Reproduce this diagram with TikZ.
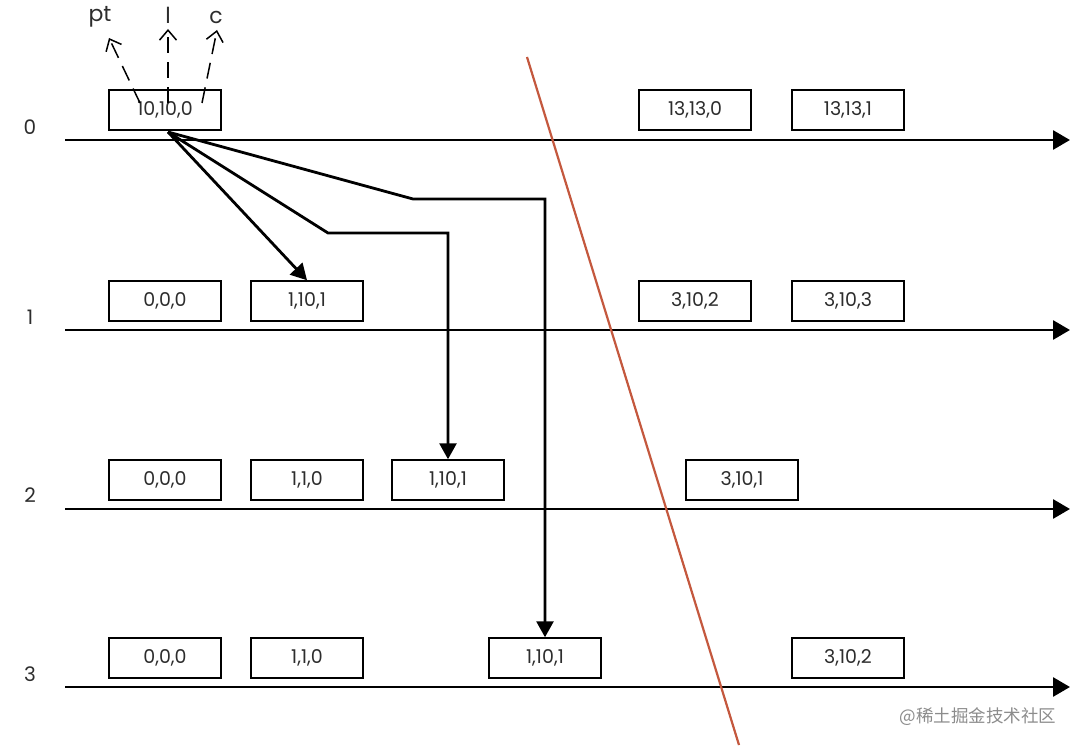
\documentclass[tikz,border=0pt]{standalone}
\usepackage{fontspec}
\setmainfont{Poppins}
\newfontfamily\cjkfont{Noto Sans CJK SC}
\usetikzlibrary{arrows.meta}
\definecolor{cutred}{RGB}{196,88,62}
\definecolor{txt}{RGB}{45,45,45}
\tikzset{
  vbox/.style={draw, line width=1.5pt, minimum width=112pt, minimum height=40pt, inner sep=0pt, text=txt, font=\fontsize{19}{21}\selectfont},
  tline/.style={line width=2.8pt, -{Triangle[length=17pt,width=19pt]}},
  msg/.style={line width=2.8pt, -{Triangle[length=16pt,width=17pt]}},
  dsh/.style={line width=1.5pt, dash pattern=on 16pt off 9pt, -{Straight Barb[length=10pt,width=17pt,line width=1.5pt]}},
  plabel/.style={font=\fontsize{20}{22}\selectfont, inner sep=0pt, text=txt},
  rlabel/.style={font=\fontsize{22}{24}\selectfont, inner sep=0pt, text=txt}
}
\begin{document}
\begin{tikzpicture}[x=1pt,y=-1pt]
\useasboundingbox (0,0) rectangle (1080,749);
\fill[white] (0,0) rectangle (1080,749);
% process labels
\node[plabel] (p0) at (30,127) {0};
\node[plabel] (p1) at (30,317) {1};
\node[plabel] (p2) at (30,495) {2};
\node[plabel] (p3) at (30,674) {3};
% timelines
\foreach \i/\y in {0/140,1/330,2/509,3/687}{
  \coordinate (s\i) at (65,\y);
  \coordinate (e\i) at (1070,\y);
  \draw[tline] (s\i) -- (e\i);
}
% boxes row 0
\node[vbox] (a00) at (165,110) {10,10,0};
\node[vbox] (a01) at (695,110) {13,13,0};
\node[vbox] (a02) at (848,110) {13,13,1};
% row 1
\node[vbox] (a10) at (165,301) {0,0,0};
\node[vbox] (a11) at (307,301) {1,10,1};
\node[vbox] (a12) at (695,301) {3,10,2};
\node[vbox] (a13) at (848,301) {3,10,3};
% row 2
\node[vbox] (a20) at (165,480) {0,0,0};
\node[vbox] (a21) at (307,480) {1,1,0};
\node[vbox] (a22) at (448,480) {1,10,1};
\node[vbox] (a23) at (742,480) {3,10,1};
% row 3
\node[vbox] (a30) at (165,658) {0,0,0};
\node[vbox] (a31) at (307,658) {1,1,0};
\node[vbox] (a32) at (545,658) {1,10,1};
\node[vbox] (a33) at (848,658) {3,10,2};
% messages
\coordinate (src) at (168,132);
\coordinate (b2) at (328,233);
\coordinate (b3) at (413,199);
\draw[msg] (src) -- (a11.north);
\draw[msg, line join=miter] (src) -- (b2) -| (a22.north);
\draw[msg, line join=miter] (src) -- (b3) -| (a32.north);
% field labels
\node[rlabel] (fpt) at (100,17) {pt};
\node[rlabel] (fl) at (168,15) {l};
\node[rlabel] (fc) at (216,17) {c};
\coordinate (tpt) at (140,103);
\coordinate (tl) at (168,103);
\coordinate (tc) at (202,103);
\coordinate (hpt) at (109,38);
\coordinate (hl) at (168,29);
\coordinate (hc) at (217,30);
\draw[dsh] (tpt) -- (hpt);
\draw[dsh] (tl) -- (hl);
\draw[dsh] (tc) -- (hc);
% cut
\coordinate (cut1) at (527,57);
\coordinate (cut2) at (739,745);
\draw[cutred, line width=2.2pt] (cut1) -- (cut2);
% watermark
\node[text=black!45, font=\cjkfont\fontsize{17.5}{19}\selectfont, inner sep=0pt] (wm) at (978,717) {@稀土掘金技术社区};
\end{tikzpicture}
\end{document}
